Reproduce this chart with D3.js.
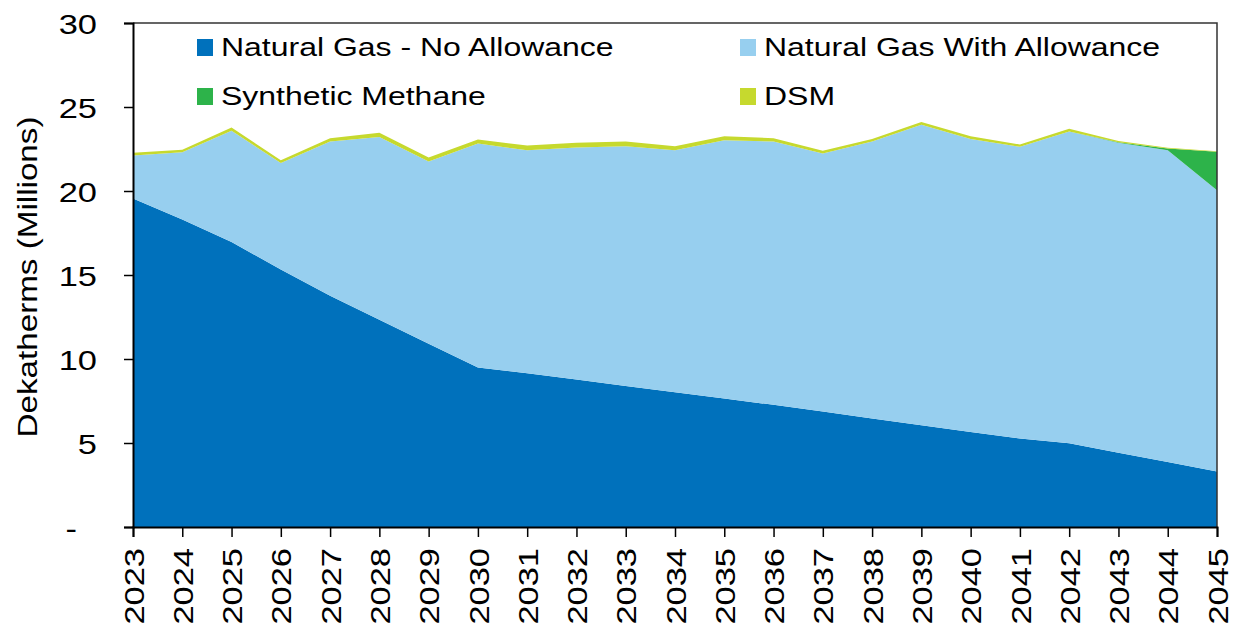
<!DOCTYPE html>
<html>
<head>
<meta charset="utf-8">
<script src="https://cdn.jsdelivr.net/npm/d3@7"></script>
<style>
  body { margin: 0; background: #fff; }
  text { font-family: "Liberation Sans", Arial, sans-serif; fill: #000; }
</style>
</head>
<body>
<script>
// Categories
const years = [2023, 2024, 2025, 2026, 2027, 2028, 2029, 2030, 2031, 2032, 2033, 2034,
               2035, 2036, 2037, 2038, 2039, 2040, 2041, 2042, 2043, 2044, 2045]
// Series values (millions of dekatherms)
const gasNoAllowance   = [19.55, 18.30, 16.97, 15.32, 13.77, 12.34, 10.91, 9.50, 9.15, 8.78, 8.40, 8.02,
                          7.65, 7.27, 6.88, 6.46, 6.05, 5.65, 5.27, 4.98, 4.42, 3.87, 3.30]
const gasWithAllowance = [2.56, 4.01, 6.61, 6.35, 9.17, 10.88, 10.84, 13.32, 13.28, 13.81, 14.26, 14.41,
                          15.37, 15.67, 15.35, 16.48, 17.89, 17.45, 17.36, 18.56, 18.45, 18.56, 16.74]
const syntheticMethane = [0, 0, 0, 0, 0, 0, 0, 0, 0, 0, 0, 0,
                          0, 0, 0, 0, 0, 0, 0, 0, 0.03, 0.10, 2.29]
const dsm              = [0.17, 0.14, 0.20, 0.16, 0.20, 0.24, 0.24, 0.24, 0.28, 0.28, 0.28, 0.23,
                          0.24, 0.20, 0.16, 0.16, 0.16, 0.16, 0.14, 0.16, 0.08, 0.05, 0.04]
// Tick labels
const yTicks = [0, 5, 10, 15, 20, 25, 30]
const seriesNames = ['Natural Gas - No Allowance', 'Natural Gas With Allowance', 'Synthetic Methane', 'DSM']
const colors = ['#0071bc', '#97cfef', '#2db34a', '#c6d92e']

// Global sizes
var width   = 1238
var height  = 625
var plotL   = 133
var plotR   = 1217
var plotT   = 23
var plotB   = 527
var stretch = 1.23   // text in the original is drawn a bit wider

// Table for the stack
let table = years.map((yr, i) => ({
    year: yr,
    k0: gasNoAllowance[i],
    k1: gasWithAllowance[i],
    k2: syntheticMethane[i],
    k3: dsm[i]
}))
let stacked = d3.stack().keys(['k0', 'k1', 'k2', 'k3'])(table)

// Scales
let x = d3.scaleLinear().domain([years[0], years[years.length - 1]]).range([plotL, plotR])
let y = d3.scaleLinear().domain([0, 30]).range([plotB, plotT])

let svg = d3.select('body')
            .append('svg')
            .attr('width', width)
            .attr('height', height)

// Areas
let area = d3.area()
             .x(d => x(d.data.year))
             .y0(d => y(d[0]))
             .y1(d => y(d[1]))

svg.append('g')
   .selectAll('path')
   .data(stacked)
   .enter()
   .append('path')
   .attr('d', area)
   .attr('fill', (d, i) => colors[i])

// Plot frame, top and right
svg.append('path')
   .attr('d', `M${plotL},${plotT}H${plotR}V${plotB}`)
   .attr('fill', 'none')
   .attr('stroke', '#333')
   .attr('stroke-width', 1.5)

// Y axis
let yAxis = svg.append('g')
               .attr('transform', `translate(${plotL},0)`)
               .call(d3.axisLeft(y).tickValues(yTicks).tickSize(9).tickPadding(10)
                       .tickFormat(d => d === 0 ? '-' : d))
yAxis.select('.domain').attr('stroke', '#000').attr('stroke-width', 2)
yAxis.selectAll('.tick line').attr('stroke', '#000').attr('stroke-width', 1.5)
yAxis.selectAll('.tick text')
     .attr('font-size', 28)
     .attr('dy', '0.36em')
     .attr('x', null)
     .attr('transform', d => `translate(${d === 0 ? -56 : -36},0) scale(${stretch},1)`)

// X axis
let xAxis = svg.append('g')
               .attr('transform', `translate(0,${plotB})`)
               .call(d3.axisBottom(x).tickValues(years).tickSize(10).tickFormat(d => d))
xAxis.select('.domain').attr('stroke', '#000').attr('stroke-width', 2)
xAxis.selectAll('.tick line').attr('stroke', '#000').attr('stroke-width', 1.5)
xAxis.selectAll('.tick text')
     .attr('font-size', 28)
     .attr('text-anchor', 'end')
     .attr('x', null)
     .attr('y', null)
     .attr('dy', '0.36em')
     .attr('transform', `translate(0,21) rotate(-90) scale(${stretch},1)`)

// Y title
svg.append('text')
   .attr('transform', `translate(37,${(plotT + plotB) / 2 + 2}) rotate(-90) scale(${stretch},1)`)
   .attr('text-anchor', 'middle')
   .attr('font-size', 27)
   .text('Dekatherms (Millions)')

// Legend
let legendPos = [[197, 47], [740, 47], [197, 96], [740, 96]]
let legend = svg.append('g')
                .selectAll('g')
                .data(seriesNames)
                .enter()
                .append('g')
                .attr('transform', (d, i) => `translate(${legendPos[i][0]},${legendPos[i][1]})`)
legend.append('rect')
      .attr('x', 0)
      .attr('y', -8)
      .attr('width', 16)
      .attr('height', 17)
      .attr('fill', (d, i) => colors[i])
legend.append('text')
      .attr('transform', `translate(24,0) scale(${stretch},1)`)
      .attr('dy', '0.35em')
      .attr('font-size', 26)
      .text(d => d)
</script>
</body>
</html>
